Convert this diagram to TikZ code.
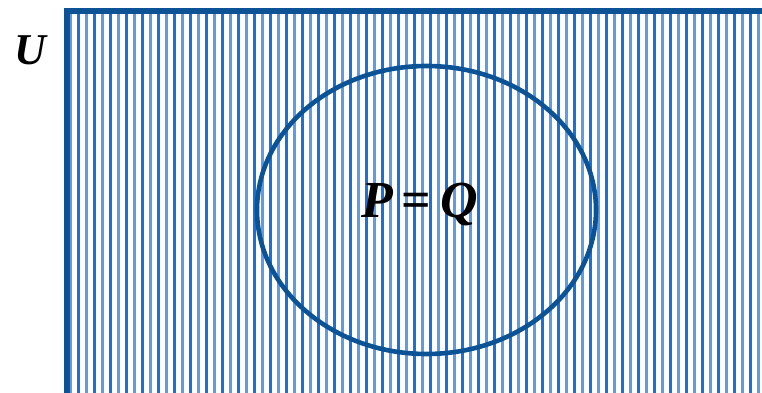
\documentclass[tikz,border=0pt]{standalone}
\usepackage{fontspec}
\setmainfont{Liberation Serif}
\usetikzlibrary{shapes.geometric}
\definecolor{frameblue}{HTML}{0B5394}
\definecolor{hatchA}{HTML}{1A72D8}
\definecolor{hatchB}{HTML}{5E9CE6}
\tikzset{
  hatchline/.style={line width=2.6pt},
  frame/.style={draw=frameblue, line width=5.5pt},
  setcircle/.style={draw=frameblue, line width=4.6pt},
  biglabel/.style={font=\fontsize{44}{46}\selectfont\bfseries\itshape, inner sep=0pt},
  setlabel/.style={font=\fontsize{52}{54}\selectfont\bfseries, inner sep=0pt}
}
\begin{document}
\begin{tikzpicture}[x=1pt,y=-1pt]
\useasboundingbox (0,0) rectangle (762,393);
\fill[white] (0,0) rectangle (762,393);
% hatching
\begin{scope}
\clip (67,11) rectangle (762,393);
\foreach \i in {0,...,86}{
  \pgfmathsetmacro{\xx}{78.4+8*\i}
  \ifodd\i
    \draw[hatchline, hatchB] (\xx,11) -- (\xx,393);
  \else
    \draw[hatchline, hatchA] (\xx,11) -- (\xx,393);
  \fi
}
\draw[hatchline, hatchB] (71,11) -- (71,393);
\end{scope}
% universe frame (open to right and bottom)
\draw[frame] (67,400) -- (67,11) -- (770,11);
% set ellipse
\node[setcircle, ellipse, minimum width=339pt, minimum height=288pt, inner sep=0pt] (pq) at (426.5,210) {};
\node[setlabel] (lbl) at (419.5,204) {\textit{P}\,=\,\textit{Q}};
\node[biglabel] (u) at (30,50) {U};
\end{tikzpicture}
\end{document}
